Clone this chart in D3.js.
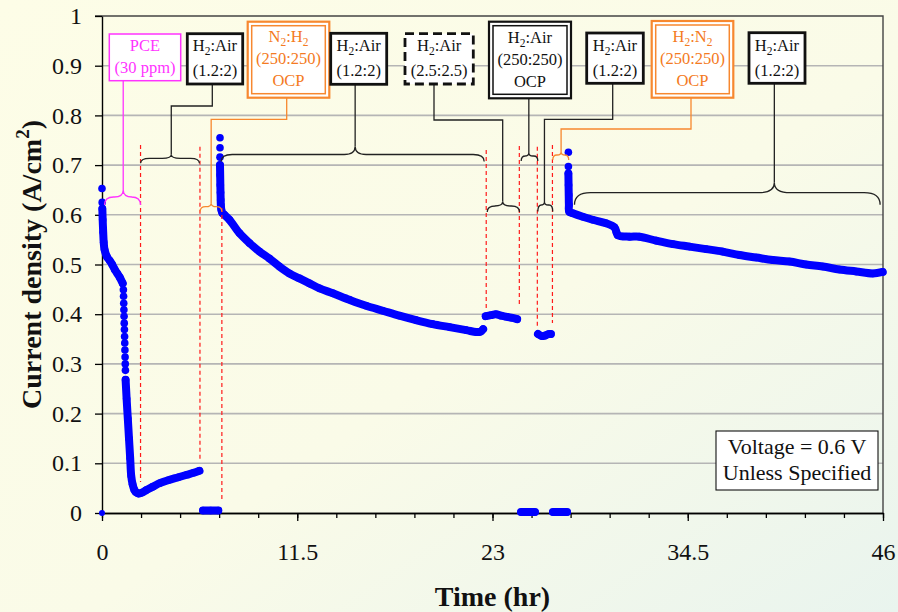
<!DOCTYPE html>
<html>
<head>
<meta charset="utf-8">
<script src="https://cdn.jsdelivr.net/npm/d3@7"></script>
<style>
  body { margin: 0; }
  text { font-family: "Liberation Serif", "Times New Roman", serif; }
</style>
</head>
<body>
<div id="chart"></div>
<script>
// ---- data: [time (hr), current density (A/cm2)] ----
// dense runs are drawn as a continuous trace, loose points as single dots
var startDots = [[0, 0], [0, 0.653], [0.01, 0.625]];
var pceRun = [[0.02, 0.612], [0.04, 0.59], [0.07, 0.565], [0.1, 0.545], [0.15, 0.53], [0.3, 0.515],
  [0.45, 0.508], [0.6, 0.5], [0.75, 0.49], [0.9, 0.482], [1.05, 0.474], [1.22, 0.462]];
var pceDrop = [[1.26, 0.449], [1.27, 0.436], [1.28, 0.422], [1.29, 0.409], [1.3, 0.396], [1.31, 0.382],
  [1.32, 0.369], [1.33, 0.355], [1.34, 0.342], [1.35, 0.328], [1.36, 0.314], [1.37, 0.3], [1.38, 0.287]];
var pceLow = [[1.39, 0.268], [1.45, 0.23], [1.52, 0.19], [1.59, 0.15], [1.66, 0.11], [1.72, 0.075],
  [1.8, 0.058], [1.9, 0.047], [2.0, 0.042], [2.15, 0.039], [2.35, 0.041], [2.6, 0.046], [3.0, 0.053],
  [3.4, 0.06], [3.9, 0.066], [4.5, 0.072], [5.0, 0.077], [5.4, 0.081], [5.74, 0.085]];
var ocp1 = [[5.95, 0.005], [6.4, 0.005], [6.85, 0.005]];
var spike1 = [[6.95, 0.755], [6.95, 0.735], [6.95, 0.716]];
var air1 = [[6.95, 0.7], [6.96, 0.68], [6.97, 0.66], [6.98, 0.645], [6.99, 0.63], [7.0, 0.62], [7.03, 0.61],
  [7.1, 0.603], [7.21, 0.6], [7.51, 0.59], [8.1, 0.563], [8.69, 0.543], [9.28, 0.526], [9.86, 0.512],
  [10.45, 0.496], [11.04, 0.482], [11.63, 0.472], [12.22, 0.462], [12.81, 0.452], [13.6, 0.442],
  [14.58, 0.429], [15.56, 0.417], [16.54, 0.407], [17.52, 0.397], [18.5, 0.388], [19.48, 0.38],
  [20.47, 0.374], [21.45, 0.368], [22.04, 0.364], [22.3, 0.365], [22.45, 0.37]];
var air25 = [[22.6, 0.396], [22.9, 0.398], [23.2, 0.4], [23.5, 0.397], [23.8, 0.395], [24.1, 0.393], [24.45, 0.39]];
var ocp2 = [[24.68, 0.002], [25.1, 0.002], [25.5, 0.002]];
var air2 = [[25.68, 0.36], [25.9, 0.356], [26.1, 0.357], [26.3, 0.36], [26.44, 0.36]];
var ocp3 = [[26.56, 0.002], [27.0, 0.002], [27.39, 0.002]];
var spike2 = [[27.47, 0.726], [27.47, 0.697]];
var air3 = [[27.47, 0.683], [27.48, 0.66], [27.49, 0.64], [27.5, 0.62], [27.52, 0.606], [27.73, 0.603],
  [28.32, 0.596], [28.9, 0.59], [29.69, 0.583], [30.18, 0.575], [30.3, 0.565], [30.38, 0.559],
  [31.07, 0.556], [31.65, 0.556], [32.64, 0.548], [33.62, 0.541], [34.6, 0.536], [35.58, 0.531],
  [36.56, 0.526], [37.54, 0.519], [38.53, 0.514], [39.5, 0.509], [40.49, 0.506], [41.47, 0.5],
  [42.45, 0.496], [43.43, 0.49], [44.42, 0.486], [45.4, 0.482], [45.98, 0.485]];

var traceRuns = [pceRun, pceLow, ocp1, air1, air25, ocp2, air2, ocp3, air3];
var looseDots = startDots.concat(pceDrop, spike1, spike2);

// tick labels
var xTicks = [0, 11.5, 23, 34.5, 46];
var xMinorTicks = d3.range(0, 46.01, 2.3);
var yTicks = [0, 0.1, 0.2, 0.3, 0.4, 0.5, 0.6, 0.7, 0.8, 0.9, 1];
var yGrid = [0.1, 0.2, 0.3, 0.4, 0.5, 0.6, 0.7, 0.8, 0.9];

// times where the gas / load condition was switched (hr)
var switchTimes = [2.27, 5.77, 7.06, 22.63, 24.58, 25.64, 26.53];

var svgWidth = 898;
var svgHeight = 612;
var margin = { top: 16, right: 15, bottom: 99, left: 102 };
var width = svgWidth - margin.left - margin.right;
var height = svgHeight - margin.top - margin.bottom;

var svg = d3.select("#chart")
  .append("svg")
  .attr("width", svgWidth)
  .attr("height", svgHeight);

// background gradient
var grad = svg.append("defs").append("linearGradient")
  .attr("id", "bg")
  .attr("x1", 0).attr("y1", 0).attr("x2", 1).attr("y2", 1);
grad.append("stop").attr("offset", "0%").attr("stop-color", "#fdfde7");
grad.append("stop").attr("offset", "55%").attr("stop-color", "#fafbe8");
grad.append("stop").attr("offset", "100%").attr("stop-color", "#e9f4ee");
svg.append("rect").attr("width", svgWidth).attr("height", svgHeight).attr("fill", "url(#bg)");

var chartGroup = svg.append("g")
  .attr("transform", `translate(${margin.left}, ${margin.top})`);

var xScale = d3.scaleLinear().domain([0, 46]).range([0, width]);
var yScale = d3.scaleLinear().domain([0, 1]).range([height, 0]);

// gridlines
chartGroup.selectAll(".grid")
  .data(yGrid)
  .enter()
  .append("line")
  .attr("x1", 0).attr("x2", width)
  .attr("y1", d => yScale(d)).attr("y2", d => yScale(d))
  .attr("stroke", "#b5b5b5")
  .attr("stroke-width", 1.6);

// top and right border
chartGroup.append("path")
  .attr("d", `M${-7},${yScale(1)}H${width}V${height}`)
  .attr("fill", "none")
  .attr("stroke", "#444")
  .attr("stroke-width", 1.4);

// ---- annotations (pixel layout) ----
var magenta = "#ff33ff";
var orange = "#f7882f";
var orangeText = "#f47a22";
var dark = "#222";

// red dashed switch markers: top in px, bottom in px
var switchTop = [145, 146.7, 208, 150, 146, 146.7, 145];
var switchBottom = [482, 460, 502, 308, 305, 327, 323];
switchTimes.forEach(function(t, i) {
  svg.append("line")
    .attr("x1", margin.left + xScale(t)).attr("x2", margin.left + xScale(t))
    .attr("y1", switchTop[i]).attr("y2", switchBottom[i])
    .attr("stroke", "#ff1a1a")
    .attr("stroke-width", 1.2)
    .attr("stroke-dasharray", "4,3");
});

// braces: t1, t2, tc (time), yb baseline, tip depth, cusp height, colour, connector path
var braces = [
  { t1: 0.15, t2: 2.27, tc: 1.25, yb: 197, tip: 8, cusp: 7, color: magenta, conn: [[123.7, 80.7]] },
  { t1: 2.27, t2: 5.74, tc: 4.08, yb: 158.3, tip: 5, cusp: 3.5, color: dark, conn: [[171.7, 106], [212.3, 106], [212.3, 84]] },
  { t1: 5.78, t2: 7.06, tc: 6.43, yb: 206.7, tip: 5, cusp: 3.5, color: orange, conn: [[211.7, 119.3], [286.7, 119.3], [286.7, 97.7]] },
  { t1: 7.02, t2: 22.51, tc: 14.91, yb: 154.5, tip: 7, cusp: 8, color: dark, conn: [[355.7, 84.3]] },
  { t1: 22.69, t2: 24.59, tc: 23.6, yb: 206, tip: 6, cusp: 4.5, color: dark, conn: [[503.3, 120], [434, 120], [434, 84]] },
  { t1: 24.69, t2: 25.67, tc: 25.14, yb: 156, tip: 5, cusp: 3, color: dark, conn: [[529.3, 98.3]] },
  { t1: 25.67, t2: 26.55, tc: 26.06, yb: 205, tip: 6.5, cusp: 3, color: dark, conn: [[545, 119.3], [612.7, 119.3], [612.7, 83.3]] },
  { t1: 26.55, t2: 27.49, tc: 27.04, yb: 155, tip: 5, cusp: 3, color: orange, conn: [[561.7, 129], [691, 129], [691, 97.7]] },
  { t1: 27.83, t2: 45.83, tc: 39.6, yb: 192.7, tip: 12, cusp: 10, color: dark, conn: [[775, 83.3]] }
];

braces.forEach(function(b) {
  var x1 = margin.left + xScale(b.t1);
  var x2 = margin.left + xScale(b.t2);
  var xc = margin.left + xScale(b.tc);
  var r = Math.min(b.tip + 4, (x2 - x1) / 4);
  var y = b.yb;
  var d = `M${x1},${y + b.tip} Q${x1},${y} ${x1 + r},${y} L${xc - r},${y} Q${xc},${y} ${xc},${y - b.cusp} ` +
    `Q${xc},${y} ${xc + r},${y} L${x2 - r},${y} Q${x2},${y} ${x2},${y + b.tip}`;
  svg.append("path").attr("d", d)
    .attr("fill", "none").attr("stroke", b.color).attr("stroke-width", 1.3);
  // connector from the cusp up to its box, with elbows where needed
  var pts = [[xc, y - b.cusp], [xc, b.conn[0][1]]];
  if (b.conn.length > 1) pts = pts.concat(b.conn);
  svg.append("path").attr("d", d3.line()(pts))
    .attr("fill", "none").attr("stroke", b.color).attr("stroke-width", 1.3);
});

// condition boxes
var boxes = [
  { x0: 109.3, x1: 180.7, y0: 34, y1: 80.7, kind: "thin", color: magenta, text: magenta, lines: ["PCE", "(30 ppm)"], dy: [-11.5, 9.7] },
  { x0: 187.3, x1: 242.7, y0: 33.7, y1: 84, kind: "solid", color: "#111", text: "#111", lines: ["H_2:Air", "(1.2:2)"], dy: [-13, 12] },
  { x0: 247.7, x1: 329.3, y0: 21.7, y1: 97.7, kind: "double", color: orange, text: orangeText, lines: ["N_2:H_2", "(250:250)", "OCP"], dy: [-23, -1, 21] },
  { x0: 330.7, x1: 386.7, y0: 33.3, y1: 84.3, kind: "solid", color: "#111", text: "#111", lines: ["H_2:Air", "(1.2:2)"], dy: [-13, 12] },
  { x0: 405, x1: 473.3, y0: 33.7, y1: 84, kind: "dashed", color: "#111", text: "#111", lines: ["H_2:Air", "(2.5:2.5)"], dy: [-13, 12] },
  { x0: 489, x1: 571, y0: 21.7, y1: 98.3, kind: "double", color: "#111", text: "#111", lines: ["H_2:Air", "(250:250)", "OCP"], dy: [-23, -1, 21] },
  { x0: 586.7, x1: 643.3, y0: 33, y1: 83.3, kind: "solid", color: "#111", text: "#111", lines: ["H_2:Air", "(1.2:2)"], dy: [-13, 12] },
  { x0: 651.7, x1: 733.3, y0: 21, y1: 97.7, kind: "double", color: orange, text: orangeText, lines: ["H_2:N_2", "(250:250)", "OCP"], dy: [-23, -1, 21] },
  { x0: 749, x1: 805, y0: 32.7, y1: 83.3, kind: "solid", color: "#111", text: "#111", lines: ["H_2:Air", "(1.2:2)"], dy: [-13, 12] }
];

var boxFont = 16.5;
boxes.forEach(function(b) {
  var g = svg.append("g");
  var rect = g.append("rect")
    .attr("x", b.x0).attr("y", b.y0)
    .attr("width", b.x1 - b.x0).attr("height", b.y1 - b.y0)
    .attr("fill", "#fff")
    .attr("stroke", b.color);
  if (b.kind === "thin") rect.attr("stroke-width", 1.5);
  if (b.kind === "solid") rect.attr("stroke-width", 2.8);
  if (b.kind === "dashed") rect.attr("stroke-width", 2.8).attr("stroke-dasharray", "9,5");
  if (b.kind === "double") {
    rect.attr("stroke-width", 2.2);
    g.append("rect")
      .attr("x", b.x0 + 4).attr("y", b.y0 + 4)
      .attr("width", b.x1 - b.x0 - 8).attr("height", b.y1 - b.y0 - 8)
      .attr("fill", "none")
      .attr("stroke", b.color)
      .attr("stroke-width", 1.5);
  }
  var cx = (b.x0 + b.x1) / 2;
  var cy = (b.y0 + b.y1) / 2;
  b.lines.forEach(function(ln, i) {
    // baseline placed so the capitals are centred on cy + dy
    var t = g.append("text")
      .attr("x", cx).attr("y", cy + b.dy[i] + 0.34 * boxFont)
      .attr("text-anchor", "middle")
      .attr("font-size", boxFont + "px")
      .attr("fill", b.text);
    var down = false;
    ln.split(/_(\d)/).forEach(function(part, j) {
      if (part === "") return;
      if (j % 2 === 1) {
        t.append("tspan").attr("font-size", "11.5px").attr("dy", 4).text(part);
        down = true;
      } else {
        var s = t.append("tspan").text(part);
        if (down) s.attr("dy", -4);
        down = false;
      }
    });
  });
});

// voltage note
svg.append("rect")
  .attr("x", 716).attr("y", 431).attr("width", 162).attr("height", 59)
  .attr("fill", "#fff").attr("stroke", "#111").attr("stroke-width", 1.1);
svg.append("text").attr("x", 797).attr("y", 446.7).attr("dy", "0.34em")
  .attr("text-anchor", "middle").attr("font-size", "22px").attr("fill", "#111")
  .text("Voltage = 0.6 V");
svg.append("text").attr("x", 797).attr("y", 472.7).attr("dy", "0.34em")
  .attr("text-anchor", "middle").attr("font-size", "22px").attr("fill", "#111")
  .text("Unless Specified");

// ---- axes ----
var leftAxis = d3.axisLeft(yScale)
  .tickValues(yTicks)
  .tickSize(7)
  .tickSizeOuter(0)
  .tickPadding(13)
  .tickFormat(d => String(d));

var bottomAxis = d3.axisBottom(xScale)
  .tickValues(xTicks)
  .tickSize(8)
  .tickSizeOuter(0)
  .tickPadding(22)
  .tickFormat(d => String(d));

var minorAxis = d3.axisBottom(xScale)
  .tickValues(xMinorTicks)
  .tickSize(5)
  .tickSizeOuter(0)
  .tickFormat("");

var yAxisG = chartGroup.append("g").call(leftAxis);
var xMinorG = chartGroup.append("g").attr("transform", `translate(0, ${height})`).call(minorAxis);
var xAxisG = chartGroup.append("g").attr("transform", `translate(0, ${height})`).call(bottomAxis);

[yAxisG, xAxisG, xMinorG].forEach(function(g) {
  g.select(".domain").attr("stroke", "#000").attr("stroke-width", 1.4);
  g.selectAll(".tick line").attr("stroke", "#000").attr("stroke-width", 1.3);
  g.selectAll("text")
    .attr("font-family", "'Liberation Serif', 'Times New Roman', serif")
    .attr("font-size", "24px")
    .attr("fill", "#111");
});

// axis titles
svg.append("text")
  .attr("x", margin.left + width / 2)
  .attr("y", 606)
  .attr("text-anchor", "middle")
  .attr("font-size", "28px")
  .attr("font-weight", "bold")
  .attr("fill", "#111")
  .text("Time (hr)");

var yTitle = svg.append("text")
  .attr("transform", `translate(41, ${margin.top + height / 2}) rotate(-90)`)
  .attr("text-anchor", "middle")
  .attr("font-size", "28px")
  .attr("font-weight", "bold")
  .attr("fill", "#111");
yTitle.append("tspan").text("Current density (A/cm");
yTitle.append("tspan").attr("font-size", "19px").attr("dy", -12).text("2");
yTitle.append("tspan").attr("dy", 12).text(")");

// ---- data trace ----
var traceLine = d3.line()
  .x(d => xScale(d[0]))
  .y(d => yScale(d[1]))
  .curve(d3.curveCatmullRom.alpha(0.5));

var dataGroup = chartGroup.append("g");
traceRuns.forEach(function(run) {
  dataGroup.append("path")
    .attr("d", traceLine(run))
    .attr("fill", "none")
    .attr("stroke", "#0000ff")
    .attr("stroke-width", 8)
    .attr("stroke-linecap", "round")
    .attr("stroke-linejoin", "round");
});

var allPts = looseDots.concat(...traceRuns);
dataGroup.selectAll("circle")
  .data(allPts)
  .enter()
  .append("circle")
  .attr("cx", d => xScale(d[0]))
  .attr("cy", d => yScale(d[1]))
  .attr("r", d => d[1] === 0 ? 3 : 3.8)
  .attr("fill", "#0000ff");
</script>
</body>
</html>
